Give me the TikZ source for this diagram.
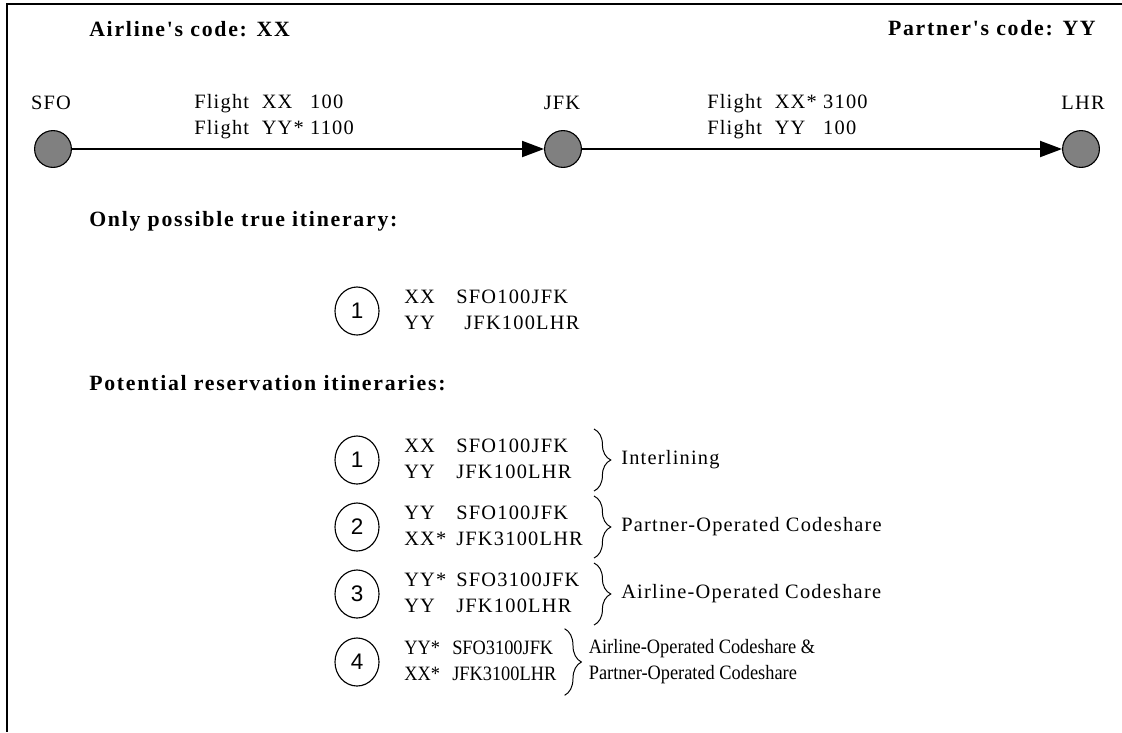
\documentclass[tikz,border=0pt]{standalone}
\usepackage{fontspec}
\setmainfont{Liberation Serif}[LetterSpace=6]
\newfontfamily\headfont{Liberation Serif}[LetterSpace=8]
\newfontfamily\numfont{Liberation Sans}
\newfontfamily\condfont{Liberation Serif}[FakeStretch=0.9]
\newcommand\codebox[1]{\makebox[1.3cm][l]{#1}}
\newcommand\codeboxc[1]{\makebox[1.2cm][l]{#1}}
\usetikzlibrary{arrows.meta,decorations.pathreplacing,shapes.geometric,calc}
\begin{document}
\begin{tikzpicture}[x=0.025cm,y=-0.025cm,
  txt/.style={font=\fontsize{14.5}{18.5}\selectfont, inner sep=0pt},
  head/.style={font=\headfont\bfseries\fontsize{15.5}{18.5}\selectfont, inner sep=0pt, anchor=west},
  city/.style={circle, draw=black, line width=0.8pt, fill=black!50, minimum size=0.92cm, inner sep=0pt},
  num/.style={ellipse, draw=black, line width=0.8pt, minimum width=1.1cm, minimum height=1.2cm, inner sep=0pt, font=\numfont\fontsize{16}{18}\selectfont},
  leg/.style={line width=1.4pt, -{Triangle[length=0.55cm,width=0.4cm]}},
  itin/.style={txt, anchor=west, align=left},
  cond/.style={font=\condfont\fontsize{14.5}{18.5}\selectfont},
  br/.style={decorate, decoration={brace, amplitude=0.42cm}, line width=0.7pt},
  lab/.style={txt, anchor=west, align=left},
]
\useasboundingbox (0,0) rectangle (1122,732);
\draw[line width=1.3pt] (1122,4) -- (7,4) -- (7,732);

\node[head] (airline) at (89,29) {Airline's code: XX};
\node[head, anchor=east] (partner) at (1096,28) {Partner's code: YY};

\node[city] (sfo) at (53,149) {};
\node[city] (jfk) at (563,149) {};
\node[city] (lhr) at (1081,149) {};
\node[txt] (sfol) at (51,103) {SFO};
\node[txt] (jfkl) at (562,103) {JFK};
\node[txt] (lhrl) at (1083,103) {LHR};
\draw[leg] (sfo) -- (jfk);
\draw[leg] (jfk) -- (lhr);

\node[itin] (f1) at (194,116) {\begin{tabular}{@{}l@{\ \ }l@{\ }l@{}}Flight & XX & 100\\ Flight & YY* & 1100\end{tabular}};
\node[itin] (f2) at (707,116) {\begin{tabular}{@{}l@{\ \ }l@{\ }l@{}}Flight & XX* & 3100\\ Flight & YY & 100\end{tabular}};

\node[head] (only) at (89,221) {Only possible true itinerary:};
\node[num] (t1) at (357,311) {1};
\node[itin] (t1t) at (404,311) {\begin{tabular}{@{}l@{}}\codebox{XX}SFO100JFK\\ \codebox{YY}\hspace{0.2cm}JFK100LHR\end{tabular}};

\node[head] (pot) at (89,383) {Potential reservation itineraries:};

\node[num] (r1) at (357,460) {1};
\node[itin] (r1t) at (404,460) {\begin{tabular}{@{}l@{}}\codebox{XX}SFO100JFK\\ \codebox{YY}JFK100LHR\end{tabular}};
\coordinate (b1a) at (594,429); \coordinate (b1b) at (594,491);
\draw[br] (b1a) -- (b1b);
\node[lab] (l1) at (621,460) {Interlining};

\node[num] (r2) at (357,527) {2};
\node[itin] (r2t) at (404,527) {\begin{tabular}{@{}l@{}}\codebox{YY}SFO100JFK\\ \codebox{XX*}JFK3100LHR\end{tabular}};
\coordinate (b2a) at (594,496); \coordinate (b2b) at (594,558);
\draw[br] (b2a) -- (b2b);
\node[lab] (l2) at (621,527) {Partner-Operated Codeshare};

\node[num] (r3) at (357,594) {3};
\node[itin] (r3t) at (404,594) {\begin{tabular}{@{}l@{}}\codebox{YY*}SFO3100JFK\\ \codebox{YY}JFK100LHR\end{tabular}};
\coordinate (b3a) at (594,563); \coordinate (b3b) at (594,625);
\draw[br] (b3a) -- (b3b);
\node[lab] (l3) at (621,594) {Airline-Operated Codeshare};

\node[num] (r4) at (357,662) {4};
\node[itin, cond] (r4t) at (404,662) {\begin{tabular}{@{}l@{}}\codeboxc{YY*}SFO3100JFK\\ \codeboxc{XX*}JFK3100LHR\end{tabular}};
\coordinate (b4a) at ($(r4t.north east)+(8,-7)$);
\coordinate (b4b) at ($(r4t.south east)+(8,7)$);
\draw[br] (b4a) -- (b4b);
\node[lab, cond] (l4) at ($(r4t.east)+(32,0)$) {Airline-Operated Codeshare \&\\ Partner-Operated Codeshare};
\end{tikzpicture}
\end{document}
